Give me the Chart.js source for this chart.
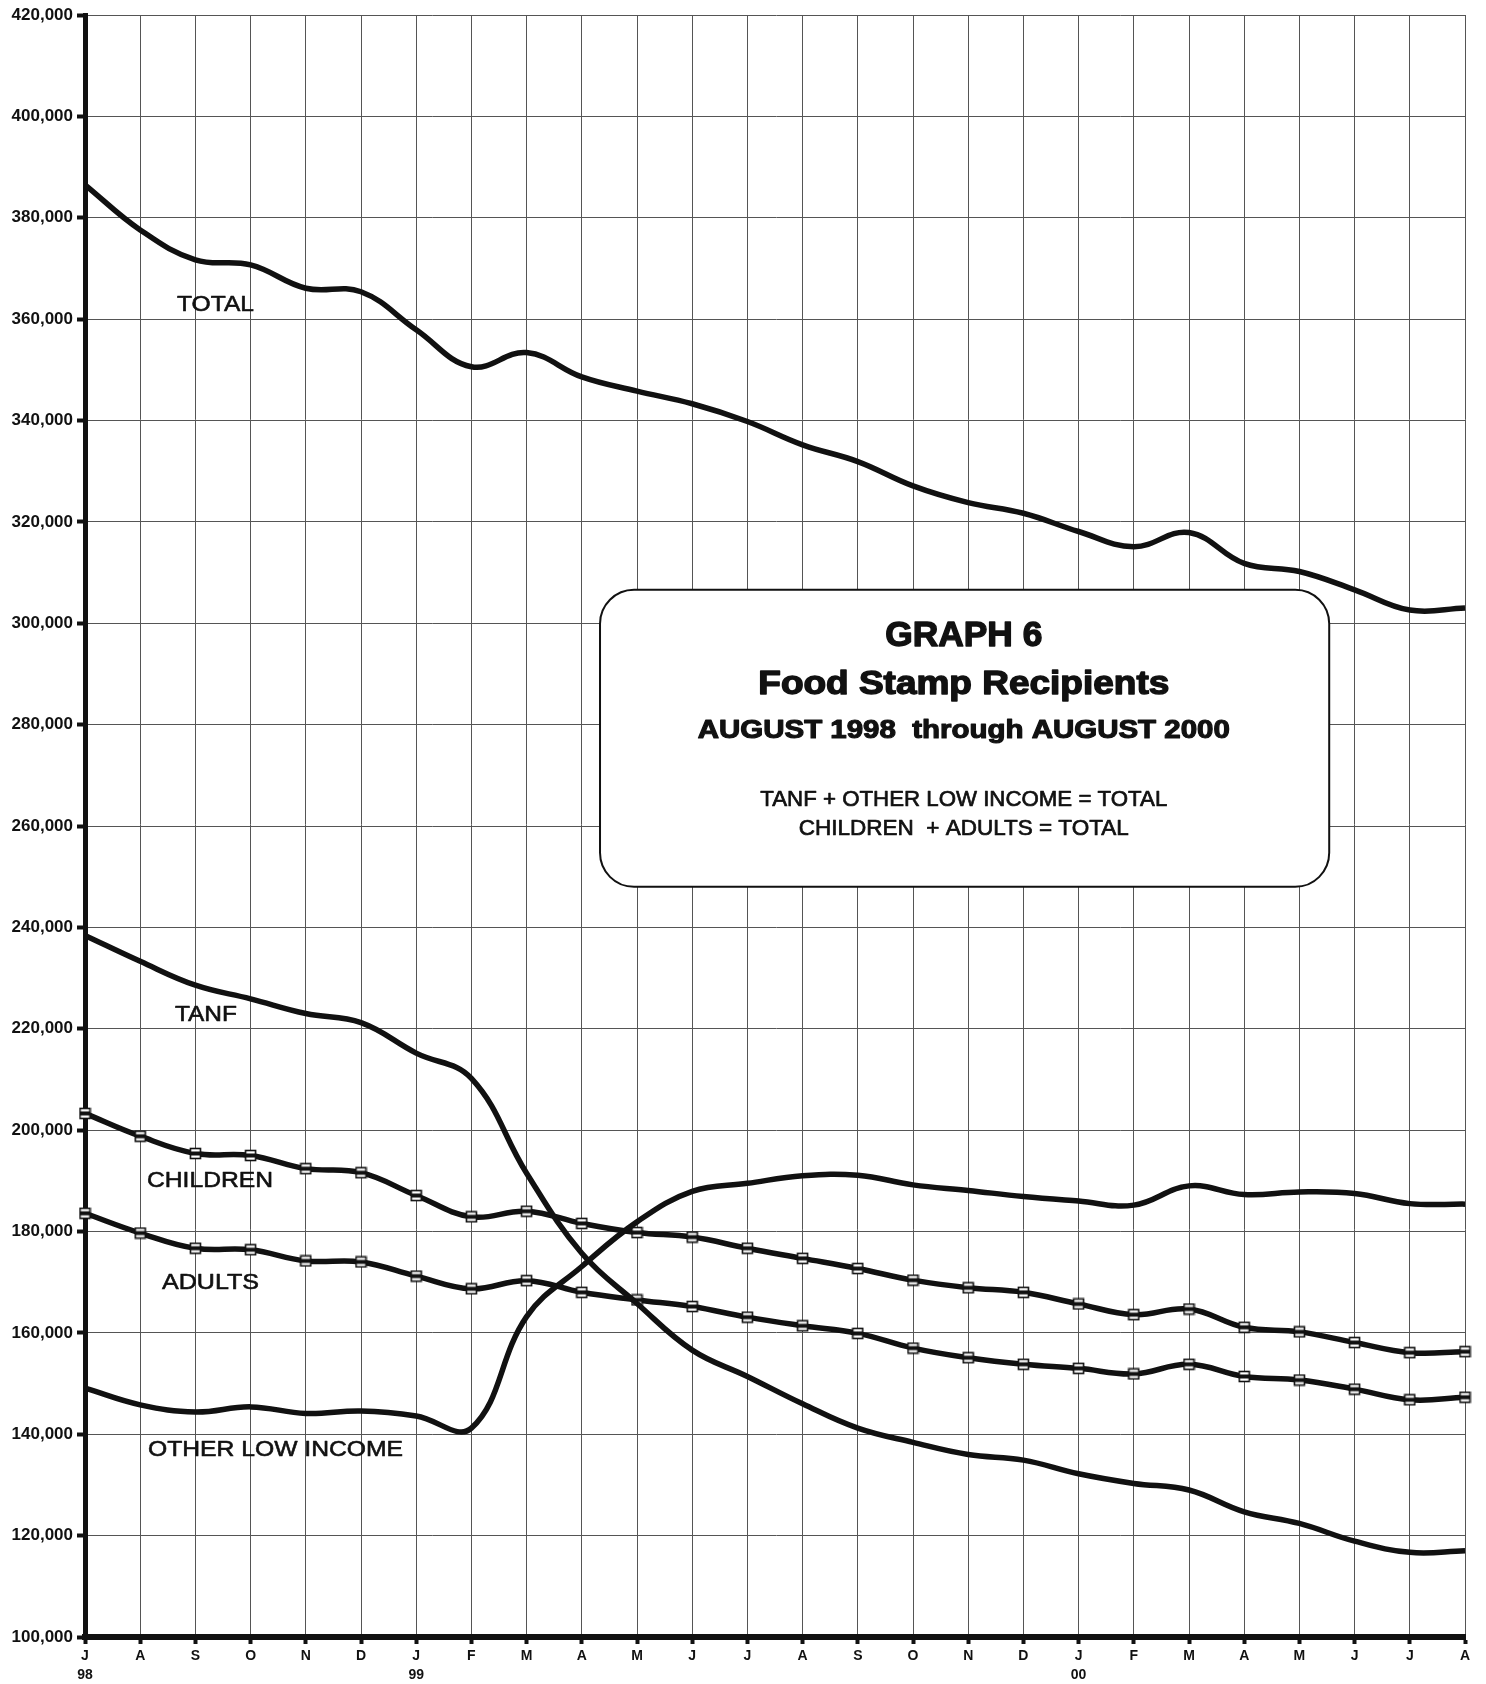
<!DOCTYPE html>
<html>
<head>
<meta charset="utf-8">
<script src="https://cdn.jsdelivr.net/npm/chart.js@4.4.1/dist/chart.umd.min.js"></script>
<style>
html,body{margin:0;padding:0;background:#fff;}
canvas{display:block;}
</style>
</head>
<body>
<canvas id="c" width="1486" height="1684"></canvas>
<script>
// ---- data ----
const months = [['J','98'],'A','S','O','N','D',['J','99'],'F','M','A','M','J','J','A','S','O','N','D',['J','00'],'F','M','A','M','J','J','A'];
const total    = [386500,377600,371700,370700,366100,365400,357900,350600,353400,348600,345800,343300,339800,335200,331900,327100,323800,321700,318100,315100,317900,311800,310200,306600,302600,303000];
const tanf     = [238400,233300,228600,225900,223000,221200,215200,210200,191500,175700,165800,156600,151400,146000,141200,138400,136000,134900,132200,130300,129000,124700,122400,118900,116700,117000];
const otherLow = [149100,145800,144400,145400,144100,144600,143600,141200,163200,173100,181900,187900,189500,191000,191100,189200,188100,186900,186000,185200,189000,187300,187800,187500,185500,185400];
const children = [203300,198800,195400,195000,192400,191600,187100,182900,184000,181600,179800,178900,176700,174700,172700,170400,168900,168000,165700,163600,164700,161100,160200,158100,156100,156300];
const adults   = [183600,179700,176700,176400,174200,174000,171200,168700,170300,168000,166500,165200,163100,161400,159900,157000,155100,153800,153000,151900,153800,151400,150700,148900,146800,147300];
const yMin = 100000, yMax = 420000, yStep = 20000;

const seriesLabels = [
  {text:'TOTAL', i:2.364, v:362800, w:77},
  {text:'TANF', i:2.19, v:222700, w:62},
  {text:'CHILDREN', i:2.264, v:190000, w:126},
  {text:'ADULTS', i:2.274, v:169800, w:97},
  {text:'OTHER LOW INCOME', i:3.451, v:136900, w:255}
];
const titleBox = {i0:9.33, i1:22.54, vTop:306600, vBot:248000, radius:34};
const titleLines = [
  {text:'GRAPH 6', v:297500, font:'bold 35px "Liberation Sans"', w:157, stroke:1.4},
  {text:'Food Stamp Recipients', v:287800, font:'bold 33px "Liberation Sans"', w:411, stroke:1.4},
  {text:'AUGUST 1998  through AUGUST 2000', v:278700, font:'bold 25px "Liberation Sans"', w:532, stroke:1.1},
  {text:'TANF + OTHER LOW INCOME = TOTAL', v:265100, font:'22px "Liberation Sans"', w:407, stroke:0.7},
  {text:'CHILDREN  + ADULTS = TOTAL', v:259400, font:'22px "Liberation Sans"', w:330, stroke:0.7}
];
const titleCenterIndex = 15.92;

// marker: open square with the line passing through
function makeMarker(){
  const c = document.createElement('canvas');
  c.width = 13; c.height = 13;
  const g = c.getContext('2d');
  g.fillStyle = '#fff'; g.fillRect(1,1,11,11);
  g.fillStyle = '#111'; g.fillRect(1,4.5,11,4);
  g.strokeStyle = '#111'; g.lineWidth = 1.6; g.strokeRect(1.5,1.5,10,10);
  return c;
}
const marker = makeMarker();

function fitText(ctx, text, cx, cy, font, w, stroke){
  ctx.save();
  ctx.font = font;
  const m = ctx.measureText(text).width;
  const s = w / m;
  ctx.translate(cx, cy);
  ctx.scale(s, 1);
  ctx.textAlign = 'center';
  ctx.textBaseline = 'middle';
  ctx.fillStyle = '#111';
  ctx.fillText(text, 0, 0);
  if (stroke) {
    ctx.strokeStyle = '#111';
    ctx.lineWidth = stroke;
    ctx.lineJoin = 'round';
    ctx.strokeText(text, 0, 0);
  }
  ctx.restore();
}

const annot = {
  id:'annot',
  beforeDatasetsDraw(chart){
    const ctx = chart.ctx, xs = chart.scales.x, ys = chart.scales.y;
    const x0 = xs.getPixelForValue(titleBox.i0), x1 = xs.getPixelForValue(titleBox.i1);
    const y0 = ys.getPixelForValue(titleBox.vTop), y1 = ys.getPixelForValue(titleBox.vBot);
    ctx.save();
    ctx.beginPath();
    ctx.roundRect(x0, y0, x1-x0, y1-y0, titleBox.radius);
    ctx.fillStyle = '#fff'; ctx.fill();
    ctx.lineWidth = 2; ctx.strokeStyle = '#111'; ctx.stroke();
    ctx.restore();
    const cx = xs.getPixelForValue(titleCenterIndex);
    titleLines.forEach(t => fitText(ctx, t.text, cx, ys.getPixelForValue(t.v), t.font, t.w, t.stroke));
  },
  afterDatasetsDraw(chart){
    const ctx = chart.ctx, xs = chart.scales.x, ys = chart.scales.y;
    seriesLabels.forEach(l => fitText(ctx, l.text, xs.getPixelForValue(l.i), ys.getPixelForValue(l.v), '22px "Liberation Sans"', l.w, 0.6));
  }
};

const lineBase = {borderColor:'#111', borderWidth:5.5, tension:0.4, fill:false, pointRadius:0};
const markerSet = {pointStyle: marker, pointRadius:6, pointHoverRadius:6};

new Chart(document.getElementById('c'), {
  type:'line',
  data:{
    labels: months,
    datasets:[
      Object.assign({label:'TOTAL', data: total}, lineBase),
      Object.assign({label:'TANF', data: tanf}, lineBase),
      Object.assign({label:'OTHER LOW INCOME', data: otherLow}, lineBase),
      Object.assign({label:'CHILDREN', data: children}, lineBase, markerSet),
      Object.assign({label:'ADULTS', data: adults}, lineBase, markerSet)
    ]
  },
  options:{
    responsive:false,
    devicePixelRatio:1,
    animation:false,
    layout:{padding:{top:15, right:21, left:0, bottom:0}},
    plugins:{legend:{display:false}, tooltip:{enabled:false}, title:{display:false}},
    scales:{
      x:{
        type:'category',
        offset:false,
        afterFit(s){ s.height = 47; },
        grid:{color:'#555', lineWidth:1, tickLength:7, tickWidth:4, tickColor:'#111', drawOnChartArea:true},
        border:{display:true, width:6, color:'#111'},
        ticks:{color:'#111', font:{family:'"Liberation Sans"', size:14, weight:'bold', lineHeight:1.35}, maxRotation:0, autoSkip:false, padding:3}
      },
      y:{
        min:yMin, max:yMax,
        afterFit(s){ s.width = 85; },
        grid:{color:'#555', lineWidth:1, tickLength:8, tickWidth:4, tickColor:'#111'},
        border:{display:true, width:5, color:'#111'},
        ticks:{stepSize:yStep, color:'#111', padding:4, font:{family:'"Liberation Sans"', size:17, weight:'bold'},
          callback:(v)=>Number(v).toLocaleString('en-US')}
      }
    }
  },
  plugins:[annot]
});
</script>
</body>
</html>
